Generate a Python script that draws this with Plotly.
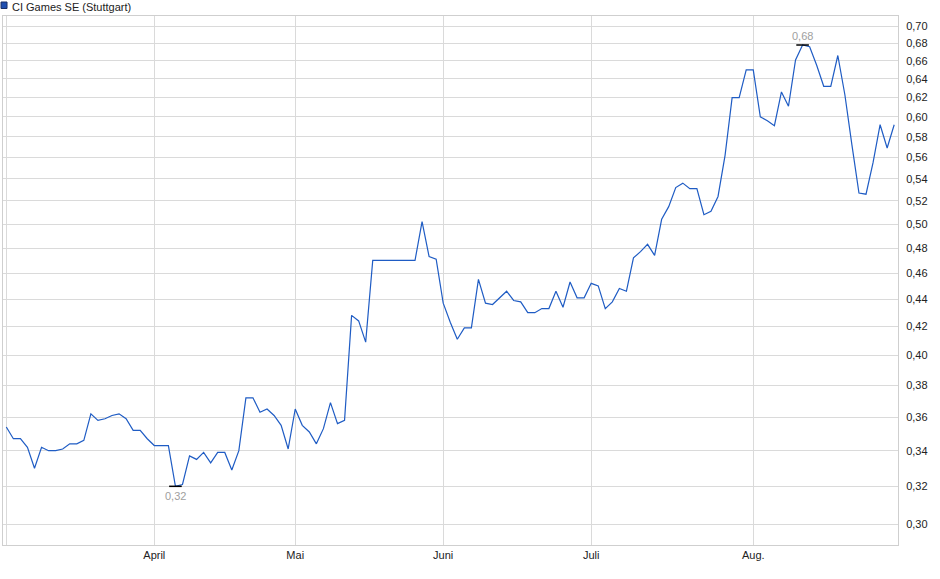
import numpy as np
import pandas as pd
import plotly.graph_objects as go

# trading days at Stuttgart, March to August 2025 (exchange holidays left out)
holidays = ["2025-04-18", "2025-04-21", "2025-05-01"]
days = pd.bdate_range("2025-03-03", "2025-08-29")
days = days[~days.isin(pd.to_datetime(holidays))]
dates = [d.strftime("%Y-%m-%d") for d in days]

# closing prices in EUR
prices = [
    0.354, 0.347, 0.347, 0.342, 0.330, 0.342, 0.340, 0.340, 0.341, 0.344,
    0.344, 0.346, 0.362, 0.358, 0.359, 0.361, 0.362, 0.359, 0.352, 0.352,
    0.347,
    # April
    0.343, 0.343, 0.343, 0.320, 0.321, 0.337, 0.335, 0.339, 0.333, 0.339,
    0.339, 0.329, 0.340, 0.372, 0.372, 0.363, 0.365, 0.361, 0.355, 0.341,
    # Mai
    0.365, 0.355, 0.351, 0.344, 0.353, 0.369, 0.356, 0.358, 0.428, 0.424,
    0.409, 0.470, 0.470, 0.470, 0.470, 0.470, 0.470, 0.470, 0.502, 0.473,
    0.471,
    # Juni
    0.437, 0.423, 0.411, 0.419, 0.419, 0.455, 0.437, 0.436, 0.441, 0.446,
    0.439, 0.438, 0.430, 0.430, 0.433, 0.433, 0.446, 0.434, 0.453, 0.441,
    0.441,
    # Juli
    0.452, 0.450, 0.433, 0.438, 0.448, 0.446, 0.472, 0.477, 0.483, 0.474,
    0.504, 0.515, 0.532, 0.536, 0.531, 0.531, 0.508, 0.511, 0.524, 0.562,
    0.620, 0.620, 0.650,
    # Aug.
    0.650, 0.600, 0.596, 0.591, 0.626, 0.611, 0.661, 0.678, 0.676, 0.655,
    0.632, 0.632, 0.666, 0.623, 0.572, 0.527, 0.526, 0.555, 0.592, 0.569,
    0.592,
]

month_ticks = ["2025-03-03", "2025-04-01", "2025-05-02", "2025-06-02", "2025-07-01", "2025-08-01"]
month_labels = ["", "April", "Mai", "Juni", "Juli", "Aug."]
y_ticks = [0.30, 0.32, 0.34, 0.36, 0.38, 0.40, 0.42, 0.44, 0.46, 0.48, 0.50,
           0.52, 0.54, 0.56, 0.58, 0.60, 0.62, 0.64, 0.66, 0.68, 0.70]

lo = int(np.argmin(prices))
hi = int(np.argmax(prices))

font = "Liberation Sans, Arial, sans-serif"
blue = "#1f5cc4"
grid = "#dadada"


def de(v):
    return f"{v:.2f}".replace(".", ",")


fig = go.Figure()
fig.add_trace(go.Scatter(
    x=dates, y=prices, mode="lines",
    line=dict(color=blue, width=1.2),
    showlegend=False, hoverinfo="x+y",
))
# low / high markers
fig.add_trace(go.Scatter(
    x=[dates[lo], dates[hi]], y=[prices[lo], prices[hi]],
    mode="markers",
    marker=dict(symbol="line-ew", size=9, line=dict(color="black", width=1.5)),
    showlegend=False, hoverinfo="skip",
))

fig.update_layout(
    width=940, height=579,
    margin=dict(l=3, r=42, t=16, b=34, pad=0),
    paper_bgcolor="white", plot_bgcolor="white",
    font=dict(family=font, size=11, color="#333333"),
    separators=",.",
    xaxis=dict(
        type="category",
        range=[-0.47, len(dates) - 1 + 0.54],
        tickvals=month_ticks, ticktext=month_labels,
        showgrid=True, gridcolor=grid, gridwidth=1,
        showline=True, linecolor="#cfcfcf", linewidth=1, mirror=True,
        ticks="", automargin=False, tickangle=0,
        tickfont=dict(size=11, color="#222222"),
    ),
    yaxis=dict(
        type="log", side="right",
        range=[np.log10(0.2896), np.log10(0.7123)],
        tickvals=y_ticks, tickformat=".2f",
        showgrid=True, gridcolor=grid, gridwidth=1,
        showline=True, linecolor="#cfcfcf", linewidth=1, mirror=True,
        ticks="", ticklabelstandoff=5, automargin=False,
        tickfont=dict(size=11, color="#222222"),
        zeroline=False,
    ),
    shapes=[dict(
        type="rect", xref="paper", yref="paper",
        x0=-0.0022, x1=0.0045, y0=1.0 + 7.5 / 529, y1=1.0 + 14 / 529,
        fillcolor="#1f4fb0", line=dict(color="#1a2f66", width=1),
    )],
    annotations=[
        dict(
            text="CI Games SE (Stuttgart)",
            xref="paper", yref="paper", x=(10 - 3) / 895, y=1.0 + 9 / 529,
            xanchor="left", yanchor="middle", showarrow=False,
            font=dict(size=11, color="#222222", family=font),
        ),
        dict(
            text=de(prices[lo]), x=dates[lo], y=np.log10(prices[lo]),
            yshift=-10, yanchor="middle", showarrow=False,
            font=dict(size=11, color="#a0a0a0", family=font),
        ),
        dict(
            text=de(prices[hi]), x=dates[hi], y=np.log10(prices[hi]),
            yshift=9, yanchor="middle", showarrow=False,
            font=dict(size=11, color="#a0a0a0", family=font),
        ),
    ],
)

# the page body has an 8px default margin; drop it so the chart sits at 0,0
fig.write_html(
    "out.html",
    config={"displayModeBar": False},
    post_script="document.body.style.margin='0';",
)
